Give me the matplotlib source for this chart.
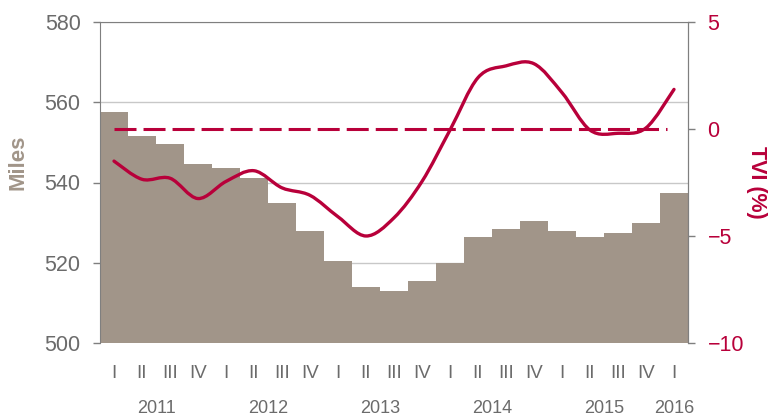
"""
    Gráfico de barras (Miles) com linha suavizada do TVI (%) no eixo da direita
"""
import matplotlib.pyplot as plt
import numpy as np
from matplotlib.path import Path
from matplotlib.patches import PathPatch

plt.rcParams['font.family'] = ['Liberation Sans', 'DejaVu Sans']

# Dados
trimestres = ['I', 'II', 'III', 'IV'] * 5 + ['I']
anos = ['2011', '2012', '2013', '2014', '2015', '2016']
anos_pos = [1.5, 5.5, 9.5, 13.5, 17.5, 20.0]
miles = [557.5, 551.5, 549.5, 544.5,
         543.5, 541.0, 535.0, 528.0,
         520.5, 514.0, 513.0, 515.5,
         520.0, 526.5, 528.5, 530.5,
         528.0, 526.5, 527.5, 530.0,
         537.5]
tvi = [-1.5, -2.35, -2.3, -3.25,
       -2.45, -1.95, -2.75, -3.1,
       -4.1, -5.0, -4.15, -2.45,
       -0.05, 2.4, 2.95, 3.05,
       1.7, -0.05, -0.2, 0.05,
       1.85]
tvi_ref = 0.0

cor_barra = '#a19589'
cor_linha = '#b8003a'
cor_texto = '#6b6b6b'
cor_eixo = '#7f7f7f'

def caminho_suave( x , y ):
    """
    Constrói um caminho Bezier (Catmull-Rom) passando pelos pontos, como a linha suavizada do Excel
    """
    x = np.asarray(x, float) ; y = np.asarray(y, float)
    verts = [(x[0], y[0])] ; codes = [Path.MOVETO]
    n = len(x)
    for i in range(n - 1):
        x0, y0 = (x[i-1], y[i-1]) if i > 0 else (x[i], y[i])
        x3, y3 = (x[i+2], y[i+2]) if i + 2 < n else (x[i+1], y[i+1])
        c1 = (x[i] + (x[i+1] - x0)/6, y[i] + (y[i+1] - y0)/6)
        c2 = (x[i+1] - (x3 - x[i])/6, y[i+1] - (y3 - y[i])/6)
        verts += [c1, c2, (x[i+1], y[i+1])]
        codes += [Path.CURVE4]*3
    return Path(verts, codes)

fig = plt.figure( figsize=(7.69, 4.17), dpi=100 )
ax = fig.add_axes([100/769, 1-343/417, 588/769, 321/417])
x = np.arange(len(miles))

ax.bar( x , np.array(miles) - 500 , bottom=500 , width=1.0 , color=cor_barra , zorder=2 )
ax.set_xlim( -0.5 , len(miles) - 0.5 )
ax.set_ylim( 500 , 580 )
ax.set_yticks( [500, 520, 540, 560, 580] )
ax.yaxis.grid( True , color='#c8c8c8' , linewidth=1.0 , zorder=0 )
ax.set_axisbelow( True )
ax.set_xticks( x )
ax.set_xticklabels( trimestres )
ax.tick_params( axis='x' , length=0 , pad=16 , labelsize=13.5 , labelcolor=cor_texto )
ax.tick_params( axis='y' , length=5 , width=1 , color=cor_eixo , pad=9 , labelsize=15.5 , labelcolor=cor_texto )
for lado in ['left', 'right', 'top']:
    ax.spines[lado].set_color( cor_eixo )
ax.spines['bottom'].set_visible( False )

for ano, pos in zip(anos, anos_pos):
    ax.text( pos , -0.205 , ano , transform=ax.get_xaxis_transform() , ha='center' , va='center' ,
             fontsize=13 , color=cor_texto )

# Eixo da direita com o TVI
ax2 = ax.twinx()
ax2.set_ylim( -10 , 5 )
ax2.set_yticks( [-10, -5, 0, 5] )
ax2.tick_params( axis='y' , length=5 , width=1 , color=cor_eixo , pad=9 , labelsize=15.5 , labelcolor=cor_linha )
for lado in ['left', 'right', 'top', 'bottom']:
    ax2.spines[lado].set_visible( False )
ax2.spines['right'].set_visible( True )
ax2.spines['right'].set_color( cor_eixo )

ax2.plot( [x[0], x[-1] - 0.25] , [tvi_ref, tvi_ref] , color=cor_linha , linewidth=2.2 ,
          dashes=(7.2, 2.3) , zorder=3 )
ax2.add_patch( PathPatch( caminho_suave(x, tvi) , facecolor='none' , edgecolor=cor_linha ,
                          linewidth=2.4 , capstyle='round' , joinstyle='round' , zorder=4 ) )

fig.text( 18/769 , 1-162/417 , 'Miles' , rotation=90 , ha='center' , va='center' ,
          fontsize=16 , fontweight='bold' , color=cor_barra )
fig.text( 757/769 , 1-182/417 , 'TVI (%)' , rotation=270 , ha='center' , va='center' ,
          fontsize=15.5 , fontweight='bold' , color=cor_linha )

fig.savefig( 'out.png' , dpi=100 )
